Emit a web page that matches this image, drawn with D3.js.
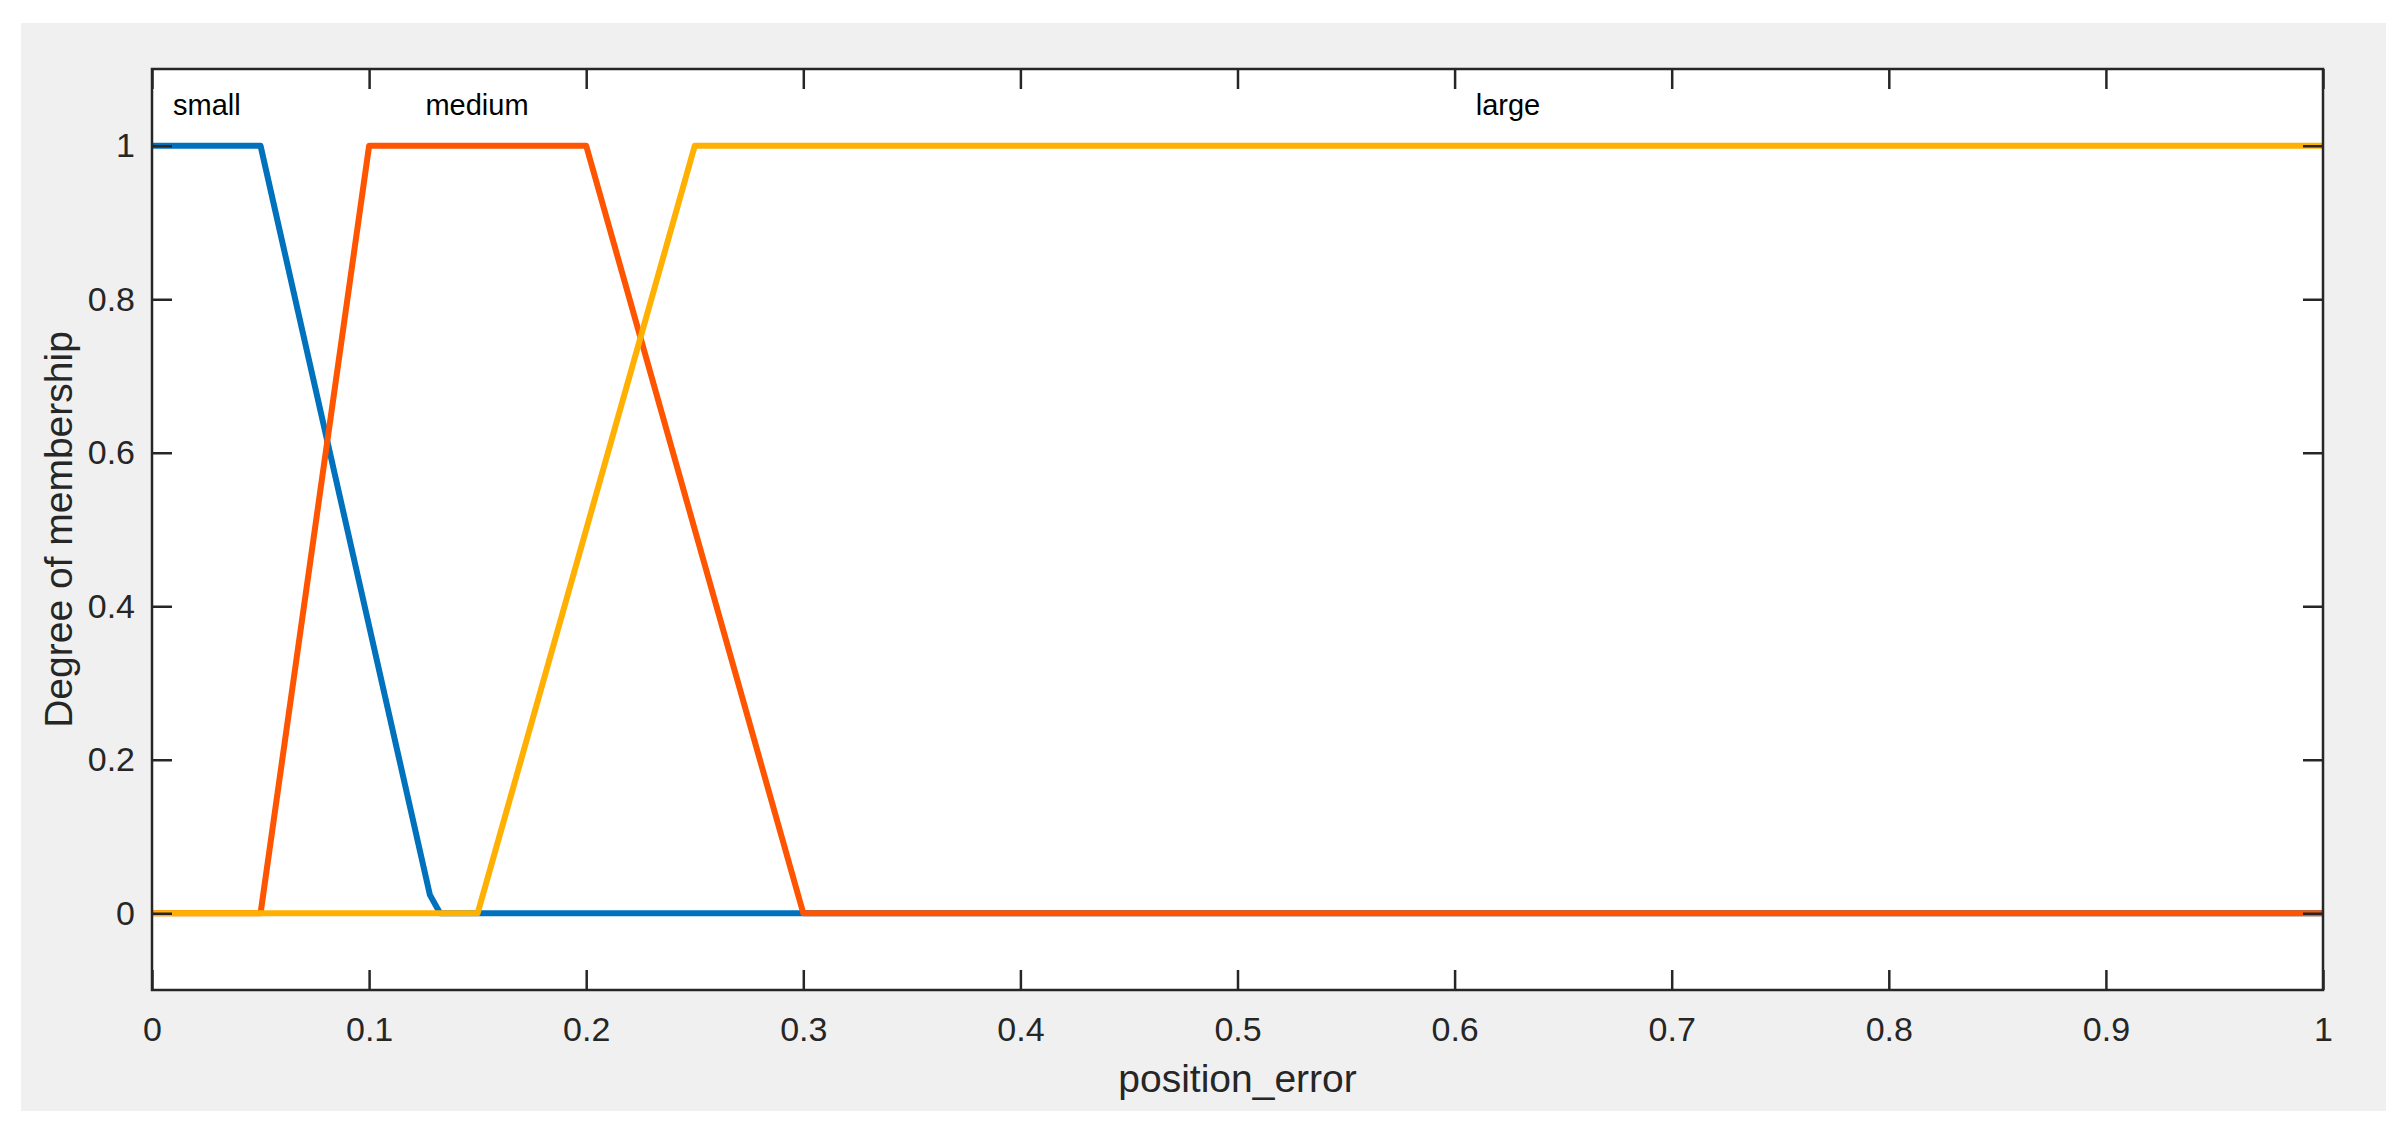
<!DOCTYPE html>
<html>
<head>
<meta charset="utf-8">
<script src="https://cdn.jsdelivr.net/npm/d3@7"></script>
<style>
    body { margin: 0; background: #fff; }
    text { font-family: 'Liberation Sans', Arial, sans-serif; fill: #262626; }
</style>
</head>
<body>
<div class="chart-container"></div>
<script>
// membership functions
const smallX = [0, 0.05, 0.128, 0.1327, 1]
const smallY = [1, 1, 0.024, 0, 0]
const mediumX = [0, 0.05, 0.1, 0.2, 0.3, 1]
const mediumY = [0, 0, 1, 1, 0, 0]
const largeX = [0, 0.15, 0.25, 1]
const largeY = [0, 0, 1, 1]

const mfNames = ['small', 'medium', 'large']
const mfLabelX = [0.0253, 0.1497, 0.6246]
const mfColors = ['#0072bd', '#ff5400', '#ffb000']

const xTicks = [0, 0.1, 0.2, 0.3, 0.4, 0.5, 0.6, 0.7, 0.8, 0.9, 1]
const yTicks = [0, 0.2, 0.4, 0.6, 0.8, 1]

const width = 2406
const height = 1133
const plot = { left: 152, right: 2323, top: 69, bottom: 990 }

const svg = d3
    .select('.chart-container')
    .append('svg')
    .attr('width', width)
    .attr('height', height)

// grey figure background
svg.append('rect')
    .attr('x', 21)
    .attr('y', 23)
    .attr('width', 2365)
    .attr('height', 1088)
    .attr('fill', '#f0f0f0')

const x = d3.scaleLinear().domain([0, 1]).range([plot.left, plot.right])
const y = d3.scaleLinear().domain([-0.1, 1.1]).range([plot.bottom, plot.top])

svg.append('rect')
    .attr('x', plot.left)
    .attr('y', plot.top)
    .attr('width', plot.right - plot.left)
    .attr('height', plot.bottom - plot.top)
    .attr('fill', '#fff')

const series = [
    d3.zip(smallX, smallY),
    d3.zip(mediumX, mediumY),
    d3.zip(largeX, largeY)
]

const line = d3.line()
    .x(d => x(d[0]))
    .y(d => y(d[1]))

svg.append('g')
    .selectAll('path')
    .data(series)
    .enter()
    .append('path')
    .attr('d', line)
    .attr('fill', 'none')
    .attr('stroke', (d, i) => mfColors[i])
    .attr('stroke-width', 6)
    .attr('stroke-linejoin', 'round')

svg.append('g')
    .selectAll('text')
    .data(mfNames)
    .enter()
    .append('text')
    .attr('x', (d, i) => x(mfLabelX[i]))
    .attr('y', y(1.04))
    .attr('text-anchor', 'middle')
    .style('font-size', '29px')
    .style('fill', '#000')
    .text(d => d)

// axes with inward ticks on all four sides
const tickLen = 20
const fmt = d => (d === 0 || d === 1) ? d3.format('d')(d) : d3.format('.1f')(d)

function styleAxis(g) {
    g.select('.domain').remove()
    g.selectAll('.tick line').attr('stroke', '#262626').attr('stroke-width', 2.5)
    g.selectAll('.tick text').style('font-size', '34px').style('font-family', "'Liberation Sans', Arial, sans-serif").attr('fill', '#262626')
}

svg.append('g')
    .attr('transform', 'translate(0,' + plot.bottom + ')')
    .call(d3.axisBottom(x).tickValues(xTicks).tickFormat(fmt).tickSizeInner(-tickLen).tickSizeOuter(0).tickPadding(27))
    .call(styleAxis)

svg.append('g')
    .attr('transform', 'translate(0,' + plot.top + ')')
    .call(d3.axisTop(x).tickValues(xTicks).tickFormat('').tickSizeInner(-tickLen).tickSizeOuter(0))
    .call(styleAxis)

svg.append('g')
    .attr('transform', 'translate(' + plot.left + ',0)')
    .call(d3.axisLeft(y).tickValues(yTicks).tickFormat(fmt).tickSizeInner(-tickLen).tickSizeOuter(0).tickPadding(17))
    .call(styleAxis)

svg.append('g')
    .attr('transform', 'translate(' + plot.right + ',0)')
    .call(d3.axisRight(y).tickValues(yTicks).tickFormat('').tickSizeInner(-tickLen).tickSizeOuter(0))
    .call(styleAxis)

svg.append('rect')
    .attr('x', plot.left)
    .attr('y', plot.top)
    .attr('width', plot.right - plot.left)
    .attr('height', plot.bottom - plot.top)
    .attr('fill', 'none')
    .attr('stroke', '#262626')
    .attr('stroke-width', 2.5)

svg.append('text')
    .attr('x', (plot.left + plot.right) / 2)
    .attr('y', 1092)
    .attr('text-anchor', 'middle')
    .style('font-size', '39px')
    .text('position_error')

svg.append('text')
    .attr('transform', 'translate(72,' + (plot.top + plot.bottom) / 2 + ') rotate(-90)')
    .attr('text-anchor', 'middle')
    .style('font-size', '39px')
    .text('Degree of membership')
</script>
</body>
</html>
